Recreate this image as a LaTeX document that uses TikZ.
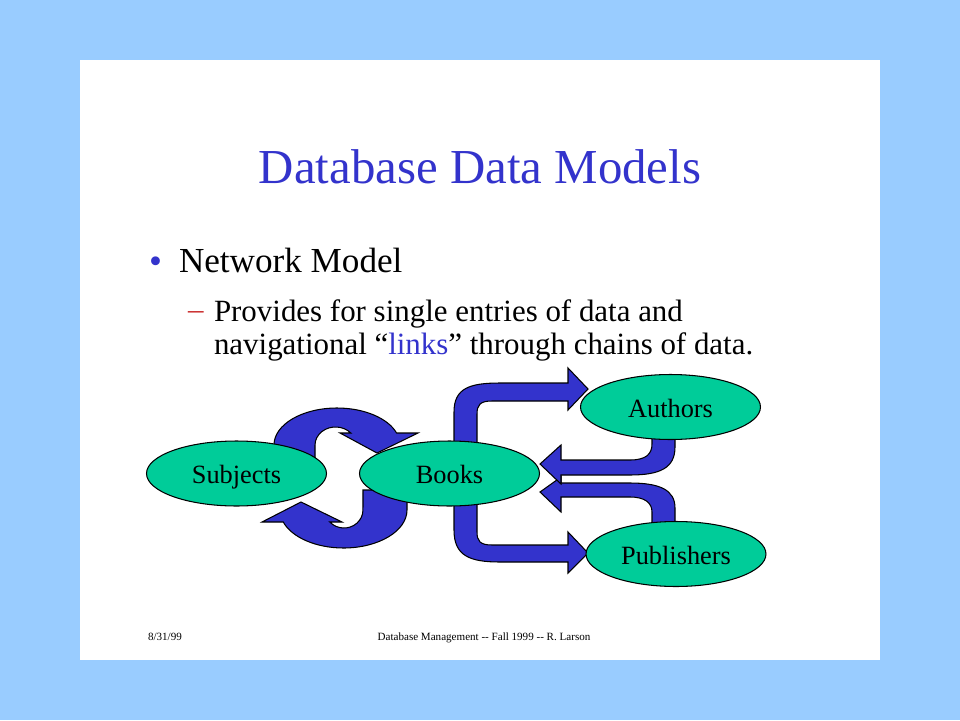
\documentclass[tikz,border=0pt]{standalone}
\usepackage{fontspec}
\setmainfont{Liberation Serif}
\usetikzlibrary{shapes.geometric}
\definecolor{slideblue}{RGB}{153,204,255}
\definecolor{linkblue}{RGB}{51,51,204}
\definecolor{entitygreen}{RGB}{0,204,153}
\definecolor{dashred}{RGB}{204,51,51}

\begin{document}
\begin{tikzpicture}[x=0.02cm,y=-0.02cm,
  txt/.style={inner sep=0pt,outer sep=0pt},
  entity/.style={ellipse,draw=black,line width=0.6pt,fill=entitygreen,
    minimum width=3.6cm,minimum height=1.3cm,inner sep=0pt,
    text height=13.5pt,text depth=2pt,
    font=\fontsize{15}{18}\selectfont},
  blockarrow/.style={draw=black,line width=0.6pt,fill=linkblue,line join=miter}]
  %\draw[step=100,gray,very thin] (0,0) grid (960,720);

  %slide
  \fill[slideblue] (0,0) rectangle (960,720);
  \fill[white] (80,60) rectangle (880,660);

  %title
  \node[txt,anchor=base,text=linkblue,font=\fontsize{27.8}{33}\selectfont] (title) at (480,183) {Database Data Models};

  %bullets
  \node[txt,anchor=base west,text=linkblue,font=\fontsize{21}{24}\selectfont] (dot) at (149,273) {•};
  \node[txt,anchor=base west,font=\fontsize{20}{24}\selectfont] (network) at (179,272) {Network Model};
  \node[txt,anchor=base west,text=dashred,font=\fontsize{17.6}{21}\selectfont] (dash) at (188,319) {–};
  \node[txt,anchor=base west,font=\fontsize{17.6}{21}\selectfont] (line1) at (214,321) {Provides for single entries of data and};
  \node[txt,anchor=base west,font=\fontsize{17.6}{21}\selectfont] (line2) at (214,354) {navigational “\textcolor{linkblue}{links}” through chains of data.};

  %Subjects <-> Books
  \filldraw[blockarrow] (274,465) -- (274,445) arc[start angle=180,end angle=341.1,x radius=63,y radius=37]
    -- (418,433) -- (377,453) -- (340,433) -- (350.8,433)
    arc[start angle=318.2,end angle=180,x radius=20.5,y radius=18] -- (315,465) -- cycle;
  \filldraw[blockarrow] (407,490) -- (407,510) arc[start angle=0,end angle=161.6,x radius=63.5,y radius=38]
    -- (262,522) -- (301,502) -- (342,522) -- (329.8,522)
    arc[start angle=138.2,end angle=0,x radius=19,y radius=18] -- (363,490) -- cycle;

  %Books -> Authors, Books -> Publishers
  \filldraw[blockarrow] (454,460) -- (454,412) .. controls (454,388) and (470,383) .. (500,383)
    -- (568,383) -- (568,368) -- (588,389) -- (568,410) -- (568,401) -- (492,401)
    .. controls (480,401) and (477,405) .. (477,414) -- (477,460) -- cycle;
  \filldraw[blockarrow] (454,490) -- (454,530) .. controls (454,556) and (470,562) .. (500,562)
    -- (568,562) -- (568,573) -- (588,553) -- (568,532) -- (568,545) -- (492,545)
    .. controls (480,545) and (477,541) .. (477,532) -- (477,490) -- cycle;

  %Publishers -> Books, Authors -> Books
  \filldraw[blockarrow] (675,535) -- (675,508) .. controls (675,490) and (660,483) .. (630,483)
    -- (561,483) -- (561,477) -- (540,492) -- (561,512) -- (561,497) -- (630,497)
    .. controls (645,497) and (652,503) .. (652,512) -- (652,535) -- cycle;
  \filldraw[blockarrow] (675,425) -- (675,447) .. controls (675,468) and (660,475) .. (630,475)
    -- (561,475) -- (561,484) -- (540,464) -- (561,445) -- (561,460) -- (630,460)
    .. controls (646,460) and (652,454) .. (652,444) -- (652,425) -- cycle;

  %entities
  \node[entity] (subjects) at (236.5,473.5) {Subjects};
  \node[entity] (books) at (449.5,473.5) {Books};
  \node[entity] (authors) at (670.5,407) {Authors};
  \node[entity] (publishers) at (676,554) {Publishers};

  %footer
  \node[txt,anchor=base west,font=\fontsize{6.3}{8}\selectfont] (date) at (148,640) {8/31/99};
  \node[txt,anchor=base,font=\fontsize{6.3}{8}\selectfont] (course) at (484,640) {Database Management {-}{-} Fall 1999 {-}{-} R. Larson};

\end{tikzpicture}
\end{document}
